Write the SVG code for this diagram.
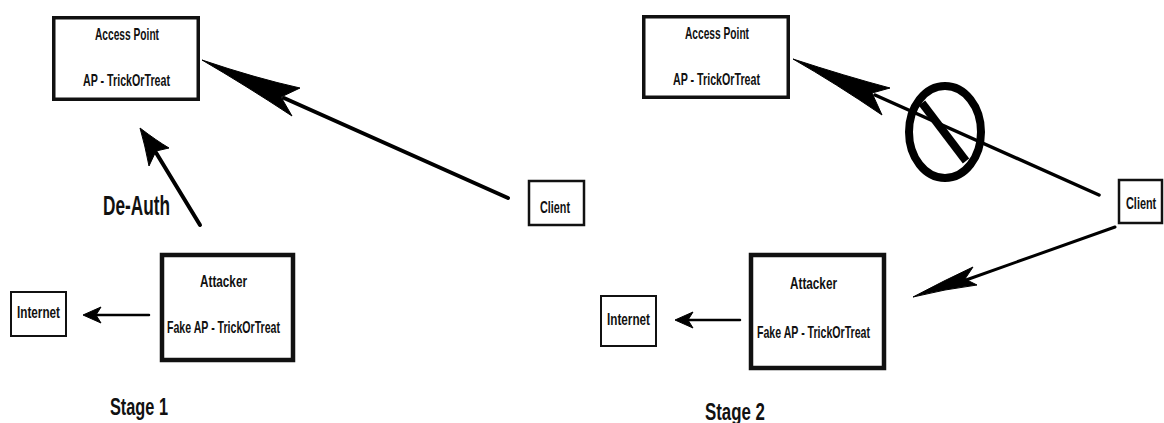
<svg xmlns="http://www.w3.org/2000/svg" width="1164" height="423" viewBox="0 0 1164 423">
<style>
  .box{fill:#fff;stroke:#111;}
  .t{font-family:"Liberation Sans",Arial,sans-serif;font-weight:bold;fill:#111;}
  .s{font-size:17px;}
  .big{font-size:28px;}
  .stage{font-size:23px;}
  .ln{stroke:#000;fill:none;stroke-linecap:round;}
  .hd{fill:#000;stroke:#000;stroke-width:1;stroke-linejoin:miter;}
</style>
<rect width="1164" height="423" fill="#fff"/>
<g id="connectors">
  <!-- Stage 1: Client -> Access Point -->
  <line class="ln" x1="284" y1="98" x2="508" y2="198" stroke-width="4"/>
  <path class="hd" d="M202,60 Q255,78 300,88 L281,97 L292,116 Q245,85 202,60 Z"/>
  <!-- Stage 1: De-Auth -->
  <line class="ln" x1="155" y1="151" x2="200" y2="225" stroke-width="4"/>
  <path class="hd" d="M140,128 Q157,141 169,148 L156,151 L149,166 Q145,145 140,128 Z"/>
  <!-- Stage 1: Attacker -> Internet -->
  <line class="ln" x1="96" y1="315" x2="149" y2="315" stroke-width="2.5"/>
  <path class="hd" d="M83,315 L101,307 L96,315 L101,323 Z"/>
  <!-- Stage 2: Client -> Access Point (blocked) -->
  <line class="ln" x1="875" y1="95" x2="1099" y2="195" stroke-width="3.5"/>
  <path class="hd" d="M793,59 Q845,76 890,88 L872,93 L882,115 Q835,83 793,59 Z"/>
  <!-- Stage 2: Client -> Attacker -->
  <line class="ln" x1="966" y1="280" x2="1115" y2="227" stroke-width="3"/>
  <path class="hd" d="M913,297 Q945,280 973,267 L965,279 L977,285 Q945,289 913,297 Z"/>
  <!-- Stage 2: Attacker -> Internet -->
  <line class="ln" x1="688" y1="320" x2="740" y2="320" stroke-width="2.5"/>
  <path class="hd" d="M675,320 L693,312 L688,320 L693,328 Z"/>
</g>
<g id="blocked-sign">
  <ellipse cx="945" cy="132" rx="36" ry="46" fill="none" stroke="#000" stroke-width="8"/>
  <line x1="922" y1="103" x2="966" y2="161" stroke="#000" stroke-width="8"/>
</g>
<!-- Stage 1 nodes -->
<g id="ap1">
  <rect class="box" x="53.75" y="17.75" width="144.5" height="81.5" stroke-width="3.5"/>
  <text class="t s" x="95" y="40" textLength="64" lengthAdjust="spacingAndGlyphs">Access Point</text>
  <text class="t s" x="83" y="86" textLength="87" lengthAdjust="spacingAndGlyphs">AP - TrickOrTreat</text>
</g>
<g id="client1">
  <rect class="box" x="529" y="181" width="55" height="44" stroke-width="2.5"/>
  <text class="t s" x="540" y="213" textLength="30" lengthAdjust="spacingAndGlyphs">Client</text>
</g>
<g id="attacker1">
  <rect class="box" x="162" y="255" width="131" height="105" stroke-width="4.5"/>
  <text class="t s" x="200" y="287" textLength="47" lengthAdjust="spacingAndGlyphs">Attacker</text>
  <text class="t s" x="167" y="333" textLength="113" lengthAdjust="spacingAndGlyphs">Fake AP - TrickOrTreat</text>
</g>
<g id="internet1">
  <rect class="box" x="11" y="292" width="55" height="44" stroke-width="2"/>
  <text class="t s" x="17" y="318" textLength="43" lengthAdjust="spacingAndGlyphs">Internet</text>
</g>
<g id="deauth-label">
  <text class="t big" x="103" y="215" textLength="67" lengthAdjust="spacingAndGlyphs">De-Auth</text>
</g>
<g id="stage1-label">
  <text class="t stage" x="110" y="415" textLength="58" lengthAdjust="spacingAndGlyphs">Stage 1</text>
</g>
<!-- Stage 2 nodes -->
<g id="ap2">
  <rect class="box" x="643.75" y="16.75" width="144.5" height="80.5" stroke-width="3.5"/>
  <text class="t s" x="685" y="39" textLength="64" lengthAdjust="spacingAndGlyphs">Access Point</text>
  <text class="t s" x="673" y="85" textLength="87" lengthAdjust="spacingAndGlyphs">AP - TrickOrTreat</text>
</g>
<g id="client2">
  <rect class="box" x="1119" y="180" width="43" height="43" stroke-width="2.5"/>
  <text class="t s" transform="translate(1126,209) scale(0.64,1)" x="0" y="0">Client</text>
</g>
<g id="attacker2">
  <rect class="box" x="751" y="255" width="133" height="113" stroke-width="4.5"/>
  <text class="t s" x="790" y="289" textLength="47" lengthAdjust="spacingAndGlyphs">Attacker</text>
  <text class="t s" x="757" y="338" textLength="113" lengthAdjust="spacingAndGlyphs">Fake AP - TrickOrTreat</text>
</g>
<g id="internet2">
  <rect class="box" x="601" y="296" width="55" height="50" stroke-width="2"/>
  <text class="t s" x="607" y="325" textLength="43" lengthAdjust="spacingAndGlyphs">Internet</text>
</g>
<g id="stage2-label">
  <text class="t stage" x="705" y="420" textLength="60" lengthAdjust="spacingAndGlyphs">Stage 2</text>
</g>
</svg>
